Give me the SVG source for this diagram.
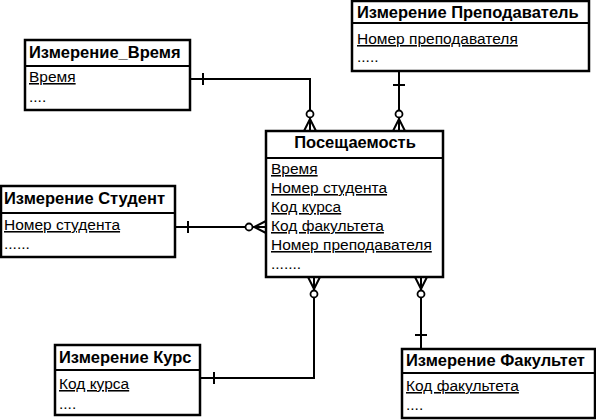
<svg xmlns="http://www.w3.org/2000/svg" width="596" height="420" viewBox="0 0 596 420">
<style>
.box{fill:#fff;stroke:#000;stroke-width:2.5}
.div{stroke:#000;stroke-width:2}
.t{font-family:"Liberation Sans",Arial,sans-serif;font-size:16.5px;font-weight:bold;fill:#000}
.r{font-family:"Liberation Sans",Arial,sans-serif;font-size:15.5px;fill:#000}
.u{text-decoration:underline}
.c{fill:none;stroke:#000;stroke-width:2}
.o{fill:#fff;stroke:#000;stroke-width:1.8}
</style>
<rect width="596" height="420" fill="#fff"/>
<g id="connectors">
  <polyline class="c" points="190,79 310,79 310,131"/>
  <line class="c" x1="203" y1="73" x2="203" y2="85"/>
  <polyline class="c" points="304,131 310,119 316,131"/>
  <line class="c" x1="310" y1="119" x2="310" y2="131"/>
  <circle class="o" cx="310" cy="114" r="3.5"/>
  <line class="c" x1="399" y1="71" x2="399" y2="131"/>
  <line class="c" x1="393" y1="85" x2="405" y2="85"/>
  <polyline class="c" points="393,131 399,119 405,131"/>
  <circle class="o" cx="399" cy="114" r="3.5"/>
  <line class="c" x1="175" y1="227" x2="266" y2="227"/>
  <line class="c" x1="188" y1="221" x2="188" y2="233"/>
  <polyline class="c" points="266,221 254,227 266,233"/>
  <circle class="o" cx="249" cy="227" r="3.5"/>
  <polyline class="c" points="200,378 314,378 314,277"/>
  <line class="c" x1="214" y1="372" x2="214" y2="384"/>
  <polyline class="c" points="308,277 314,289 320,277"/>
  <circle class="o" cx="314" cy="294" r="3.5"/>
  <line class="c" x1="421" y1="277" x2="421" y2="349"/>
  <line class="c" x1="415" y1="335" x2="427" y2="335"/>
  <polyline class="c" points="415,277 421,289 427,277"/>
  <circle class="o" cx="421" cy="294" r="3.5"/>
</g>
<g id="fact">
  <rect class="box" x="266" y="131" width="177" height="146"/>
  <line class="div" x1="266" y1="158" x2="443" y2="158"/>
  <text class="t" x="355" y="148" text-anchor="middle">Посещаемость</text>
  <text class="r u" x="271" y="174">Время</text>
  <text class="r u" x="271" y="193">Номер студента</text>
  <text class="r u" x="271" y="212">Код курса</text>
  <text class="r u" x="271" y="231">Код факультета</text>
  <text class="r u" x="271" y="250">Номер преподавателя</text>
  <text class="r" x="271" y="269">.......</text>
</g>
<g id="time">
  <rect class="box" x="25" y="40" width="165" height="70"/>
  <line class="div" x1="25" y1="66" x2="190" y2="66"/>
  <text class="t" x="29" y="58">Измерение_Время</text>
  <text class="r u" x="29" y="82">Время</text>
  <text class="r" x="29" y="102">....</text>
</g>
<g id="teacher">
  <rect class="box" x="352" y="1" width="237" height="70"/>
  <line class="div" x1="352" y1="23" x2="589" y2="23"/>
  <text class="t" x="357" y="18">Измерение Преподаватель</text>
  <text class="r u" x="357" y="44">Номер преподавателя</text>
  <text class="r" x="357" y="62">.....</text>
</g>
<g id="student">
  <rect class="box" x="1" y="186" width="174" height="71"/>
  <line class="div" x1="1" y1="213" x2="175" y2="213"/>
  <text class="t" x="4" y="204">Измерение Студент</text>
  <text class="r u" x="4" y="230">Номер студента</text>
  <text class="r" x="4" y="249">......</text>
</g>
<g id="course">
  <rect class="box" x="55" y="345" width="145" height="70"/>
  <line class="div" x1="55" y1="370" x2="200" y2="370"/>
  <text class="t" x="59" y="363">Измерение Курс</text>
  <text class="r u" x="59" y="389">Код курса</text>
  <text class="r" x="59" y="409">....</text>
</g>
<g id="faculty">
  <rect class="box" x="402" y="349" width="193" height="69"/>
  <line class="div" x1="402" y1="373" x2="595" y2="373"/>
  <text class="t" x="406" y="366">Измерение Факультет</text>
  <text class="r u" x="406" y="391">Код факультета</text>
  <text class="r" x="406" y="410">....</text>
</g>
</svg>
